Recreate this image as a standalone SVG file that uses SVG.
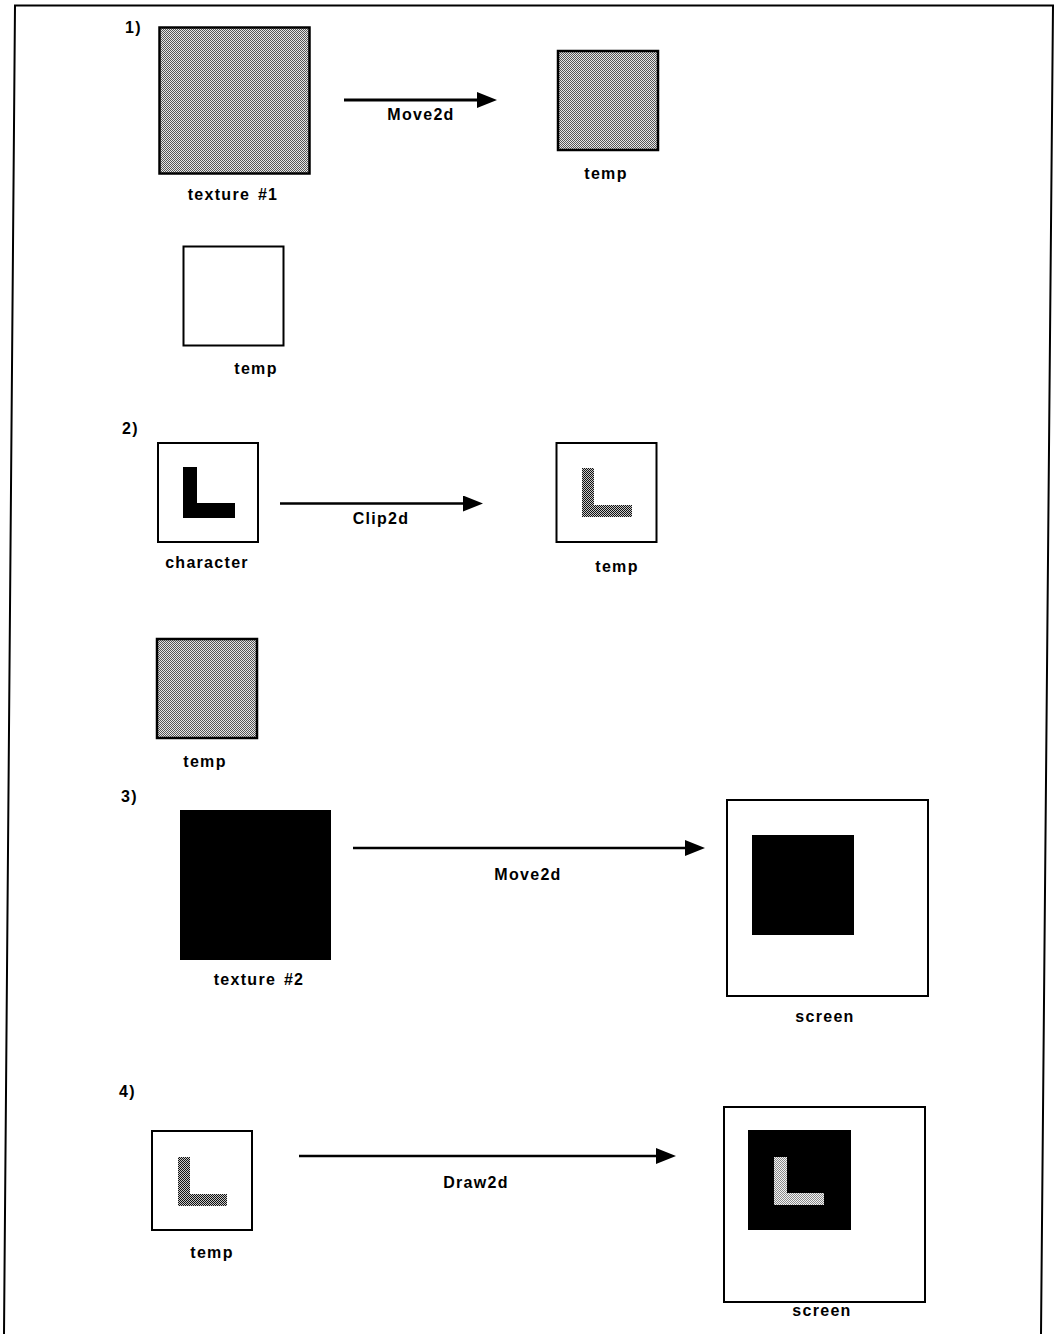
<svg xmlns="http://www.w3.org/2000/svg" width="1056" height="1334" viewBox="0 0 1056 1334">
<defs>
<pattern id="dither" patternUnits="userSpaceOnUse" width="2" height="2">
<rect width="2" height="2" fill="#e6e6e6"/>
<rect x="0" y="0" width="1" height="1" fill="#555"/>
<rect x="1" y="1" width="1" height="1" fill="#555"/>
</pattern>
<pattern id="ditherDark" patternUnits="userSpaceOnUse" width="2" height="2">
<rect width="2" height="2" fill="#c8c8c8"/>
<rect x="0" y="0" width="1" height="1" fill="#111"/>
<rect x="1" y="1" width="1" height="1" fill="#111"/>
</pattern>
<pattern id="ditherLite" patternUnits="userSpaceOnUse" width="2" height="2">
<rect width="2" height="2" fill="#f4f4f4"/>
<rect x="0" y="0" width="1" height="1" fill="#8a8a8a"/>
<rect x="1" y="1" width="1" height="1" fill="#8a8a8a"/>
</pattern>
<marker id="head" markerUnits="userSpaceOnUse" markerWidth="22" markerHeight="18" refX="10" refY="8" orient="auto" viewBox="0 0 22 18">
<path d="M0,0 L20,8 L0,16 Z" fill="#000"/>
</marker>
</defs>
<style>
text { font-family: "Liberation Sans", Arial, sans-serif; font-weight: bold; font-size: 16px; letter-spacing: 1.3px; fill: #000; }
.mid { text-anchor: middle; }
.box { stroke: #000; stroke-width: 2.5; }
.plain { fill: #fff; }
.gray { fill: url(#dither); }
.black { fill: #000; }
.conn { stroke: #000; stroke-width: 3; fill: none; }
.frame { stroke: #000; stroke-width: 2; fill: none; }
</style>
<rect width="1056" height="1334" fill="#fff"/>
<path class="frame" d="M4,1334 L15,5.5 L1053,5.5 L1041,1334"/>

<g id="step-labels">
<text x="125" y="33">1)</text>
<text x="122" y="434">2)</text>
<text x="121" y="802">3)</text>
<text x="119" y="1097">4)</text>
</g>

<g id="texture1">
<rect class="box gray" x="159.5" y="27.5" width="150" height="146"/>
<text class="mid" x="233" y="200" word-spacing="2">texture #1</text>
</g>
<g id="temp1">
<rect class="box gray" x="558" y="51" width="100" height="99"/>
<text class="mid" x="606" y="179">temp</text>
</g>
<g id="temp-empty">
<rect class="box plain" x="183.5" y="246.5" width="100" height="99" style="stroke-width:2"/>
<text class="mid" x="256" y="374">temp</text>
</g>

<g id="character">
<rect class="box plain" x="158" y="443" width="100" height="99" style="stroke-width:2"/>
<path d="M183,467 H197 V503 H235 V518 H183 Z" fill="#000"/>
<text class="mid" x="207" y="568">character</text>
</g>
<g id="temp2">
<rect class="box plain" x="556.5" y="443" width="100" height="99" style="stroke-width:2"/>
<path d="M582,468 H594 V505 H632 V517 H582 Z" fill="url(#ditherDark)"/>
<text class="mid" x="617" y="572">temp</text>
</g>
<g id="temp3">
<rect class="box gray" x="157" y="639" width="100" height="99"/>
<text class="mid" x="205" y="767">temp</text>
</g>

<g id="texture2">
<rect class="black" x="180" y="810" width="151" height="150"/>
<text class="mid" x="259" y="985" word-spacing="2">texture #2</text>
</g>
<g id="screen1">
<rect class="box plain" x="727" y="800" width="201" height="196" style="stroke-width:2"/>
<rect class="black" x="752" y="835" width="102" height="100"/>
<text class="mid" x="825" y="1022">screen</text>
</g>

<g id="temp4">
<rect class="box plain" x="152" y="1131" width="100" height="99" style="stroke-width:2"/>
<path d="M178,1157 H190 V1194 H227 V1206 H178 Z" fill="url(#ditherDark)"/>
<text class="mid" x="212" y="1258">temp</text>
</g>
<g id="screen2">
<rect class="box plain" x="724" y="1107" width="201" height="195" style="stroke-width:2"/>
<rect class="black" x="748" y="1130" width="103" height="100"/>
<path d="M774,1157 H787 V1193 H824 V1205 H774 Z" fill="url(#ditherLite)"/>
<text class="mid" x="822" y="1316">screen</text>
</g>

<g id="connectors">
<line class="conn" x1="344" y1="100" x2="487" y2="100" marker-end="url(#head)"/>
<text class="mid" x="421" y="120">Move2d</text>
<line class="conn" x1="280" y1="503.5" x2="473" y2="503.5" marker-end="url(#head)" style="stroke-width:2.5"/>
<text class="mid" x="381" y="524">Clip2d</text>
<line class="conn" x1="353" y1="848" x2="695" y2="848" marker-end="url(#head)" style="stroke-width:2.5"/>
<text class="mid" x="528" y="880">Move2d</text>
<line class="conn" x1="299" y1="1156" x2="666" y2="1156" marker-end="url(#head)" style="stroke-width:2.5"/>
<text class="mid" x="476" y="1188">Draw2d</text>
</g>
</svg>
